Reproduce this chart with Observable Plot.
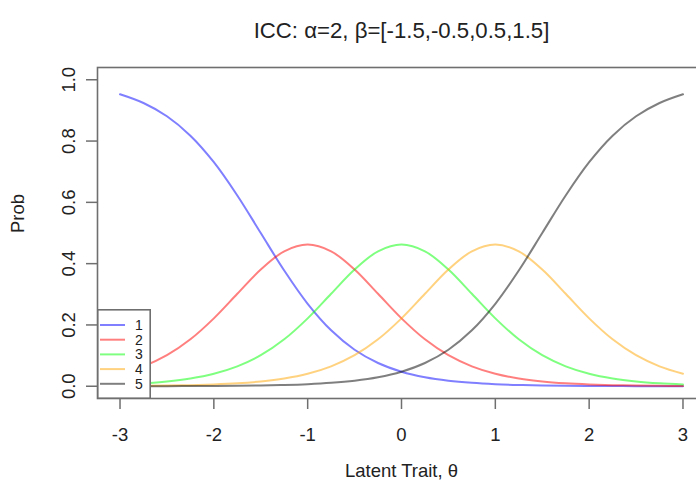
<!DOCTYPE html>
<html><head><meta charset="utf-8">
<script src="https://cdn.jsdelivr.net/npm/d3@7"></script>
<script src="https://cdn.jsdelivr.net/npm/@observablehq/plot@0.6"></script>
<style>
html,body{margin:0;padding:0;background:#fff;overflow:hidden;}
#wrap{position:relative;width:696px;height:488px;overflow:hidden;}
#wrap svg{max-width:none !important;}
#legend{position:absolute;left:97px;top:309px;}
</style></head><body><div id="wrap"></div>
<script>
const title = "ICC: α=2, β=[-1.5,-0.5,0.5,1.5]";
const xLabel = "Latent Trait, θ";
const yLabel = "Prob";
const categories = ["1", "2", "3", "4", "5"];
const colors = ["blue", "red", "#00ff00", "orange", "black"];
const xTicks = [-3, -2, -1, 0, 1, 2, 3];
const yTicks = [0, 0.2, 0.4, 0.6, 0.8, 1.0];
const theta = [-3, -2.75, -2.5, -2.25, -2, -1.75, -1.5, -1.25, -1, -0.75, -0.5, -0.25, 0,
  0.25, 0.5, 0.75, 1, 1.25, 1.5, 1.75, 2, 2.25, 2.5, 2.75, 3];
const p1 = [0.9526, 0.9241, 0.8808, 0.8176, 0.7311, 0.6225, 0.5, 0.3775, 0.2689, 0.1824, 0.1192, 0.0759, 0.0474,
  0.0293, 0.0180, 0.0110, 0.0067, 0.0041, 0.0025, 0.0015, 0.0009, 0.0006, 0.0003, 0.0002, 0.0001];
const p2 = [0.0407, 0.0649, 0.1012, 0.1531, 0.2215, 0.3016, 0.3808, 0.4401, 0.4622, 0.4401, 0.3808, 0.3016, 0.2215,
  0.1531, 0.1012, 0.0649, 0.0407, 0.0252, 0.0155, 0.0095, 0.0058, 0.0035, 0.0022, 0.0013, 0.0008];
const p3 = [0.0058, 0.0095, 0.0155, 0.0252, 0.0407, 0.0649, 0.1012, 0.1531, 0.2215, 0.3016, 0.3808, 0.4401, 0.4622,
  0.4401, 0.3808, 0.3016, 0.2215, 0.1531, 0.1012, 0.0649, 0.0407, 0.0252, 0.0155, 0.0095, 0.0058];
const p4 = [0.0008, 0.0013, 0.0022, 0.0035, 0.0058, 0.0095, 0.0155, 0.0252, 0.0407, 0.0649, 0.1012, 0.1531, 0.2215,
  0.3016, 0.3808, 0.4401, 0.4622, 0.4401, 0.3808, 0.3016, 0.2215, 0.1531, 0.1012, 0.0649, 0.0407];
const p5 = [0.0001, 0.0002, 0.0003, 0.0006, 0.0009, 0.0015, 0.0025, 0.0041, 0.0067, 0.0110, 0.0180, 0.0293, 0.0474,
  0.0759, 0.1192, 0.1824, 0.2689, 0.3775, 0.5, 0.6225, 0.7311, 0.8176, 0.8808, 0.9241, 0.9526];

const series = [p1, p2, p3, p4, p5];
const rows = series.flatMap((vals, s) => vals.map((v, i) => ({theta: theta[i], prob: v, cat: categories[s]})));

const font = "'Liberation Sans', Arial, Helvetica, sans-serif";
const axisGray = "#6f6f6f";

const chart = Plot.plot({
  width: 712, height: 488,
  marginLeft: 97, marginRight: 7, marginTop: 67, marginBottom: 90,
  style: {fontFamily: font, fontSize: "18.5px", background: "white", color: "#222", maxWidth: "none"},
  x: {domain: [-3.24, 3.24]},
  y: {domain: [-0.04, 1.04]},
  color: {domain: categories, range: colors},
  marks: [
    Plot.line(rows, {x: "theta", y: "prob", z: "cat", stroke: "cat", strokeOpacity: 0.5, strokeWidth: 2, curve: "catmull-rom"}),
    Plot.frame({stroke: axisGray, strokeWidth: 1.6}),
    Plot.axisX({ticks: xTicks, tickSize: 11, tickPadding: 18, fontSize: 18.5, tickFormat: d => String(d), stroke: axisGray, strokeWidth: 1.5, label: null}),
    Plot.axisY({ticks: yTicks, tickSize: 11, tickPadding: 12, tickRotate: -90, fontSize: 18.5, tickFormat: d => d.toFixed(1), stroke: axisGray, strokeWidth: 1.5, label: null}),
    Plot.text([title], {frameAnchor: "top", dy: -45, fontSize: 22.2}),
    Plot.text([xLabel], {frameAnchor: "bottom", dy: 78, fontSize: 18.5}),
    Plot.text([yLabel], {frameAnchor: "left", dx: -79, rotate: -90, fontSize: 18.5})
  ]
});
const wrap = document.getElementById("wrap");
wrap.appendChild(chart);

// Legend (R-style boxed legend)
const lg = d3.select(wrap).append("svg").attr("id", "legend").attr("width", 54).attr("height", 90)
  .style("font-family", font);
lg.append("rect").attr("x", 0.8).attr("y", 0.8).attr("width", 52.4).attr("height", 88.4)
  .attr("fill", "white").attr("stroke", axisGray).attr("stroke-width", 1.6);
const row = lg.selectAll("g").data(categories).join("g")
  .attr("transform", (d, i) => `translate(0,${16 + i * 14.7})`);
row.append("line").attr("x1", 3).attr("x2", 28).attr("y1", 0).attr("y2", 0)
  .attr("stroke", (d, i) => colors[i]).attr("stroke-opacity", 0.5).attr("stroke-width", 2);
row.append("text").attr("x", 42).attr("y", 0).attr("dy", "0.35em").attr("text-anchor", "middle")
  .attr("font-size", 14).attr("fill", "#222").text(d => d);
</script></body></html>
